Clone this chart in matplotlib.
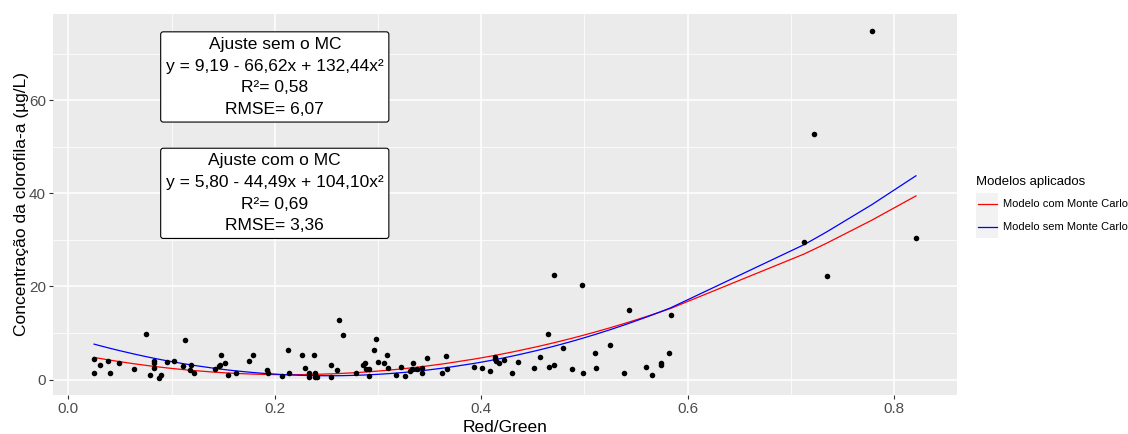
import numpy as np
import matplotlib
matplotlib.use("Agg")
import matplotlib.pyplot as plt
from matplotlib.lines import Line2D
from matplotlib.patches import Rectangle

plt.rcParams['font.family'] = ['Liberation Sans', 'DejaVu Sans']

# observed points (Red/Green ratio, chlorophyll-a)
red_green = [0.025, 0.025, 0.031, 0.038, 0.040, 0.049, 0.064, 0.075, 0.079, 0.083,
             0.083, 0.083, 0.0875, 0.090, 0.096, 0.102, 0.111, 0.113, 0.118, 0.119,
             0.122, 0.142, 0.146, 0.147, 0.148, 0.152, 0.155, 0.162, 0.175, 0.179,
             0.192, 0.193, 0.207, 0.2125, 0.2135, 0.226, 0.229, 0.233, 0.233, 0.238,
             0.239, 0.239, 0.241, 0.2545, 0.2545, 0.260, 0.262, 0.266, 0.279, 0.2855,
             0.287, 0.288, 0.291, 0.2917, 0.296, 0.298, 0.300, 0.3055, 0.3085, 0.310,
             0.317, 0.322, 0.3266, 0.331, 0.333, 0.334, 0.3375, 0.3427, 0.343, 0.347,
             0.3624, 0.366, 0.3666, 0.393, 0.401, 0.408, 0.4135, 0.4135, 0.414, 0.417,
             0.422, 0.430, 0.4354, 0.451, 0.4567, 0.4645, 0.4654, 0.470, 0.4706, 0.479,
             0.488, 0.498, 0.4987, 0.510, 0.5107, 0.5245, 0.538, 0.543, 0.5594, 0.5656,
             0.5743, 0.5743, 0.5817, 0.5836, 0.7125, 0.722, 0.735, 0.778, 0.821]
clorofila = [4.5, 1.5, 3.1, 3.9, 1.5, 3.5, 2.2, 9.7, 1.0, 4.0,
             3.5, 2.4, 0.4, 1.0, 3.7, 4.0, 3.0, 8.5, 2.0, 3.2,
             1.4, 2.2, 3.0, 3.2, 5.2, 3.5, 1.0, 1.4, 4.0, 5.2,
             2.0, 1.5, 0.8, 6.4, 1.5, 5.2, 2.4, 1.4, 0.5, 5.2,
             1.5, 0.5, 0.5, 3.1, 0.5, 2.0, 12.7, 9.5, 1.3, 3.1,
             3.5, 2.2, 2.2, 0.75, 6.4, 8.8, 3.7, 3.5, 5.2, 2.5,
             1.0, 2.8, 0.8, 1.8, 2.2, 3.5, 2.2, 2.4, 1.5, 4.6,
             1.4, 5.0, 2.2, 2.7, 2.5, 1.8, 4.8, 4.4, 4.0, 3.5,
             4.1, 1.3, 3.7, 2.4, 4.8, 9.7, 2.7, 22.5, 3.1, 6.75,
             2.2, 20.3, 1.5, 5.8, 2.4, 7.5, 1.5, 15.0, 2.7, 1.0,
             3.5, 3.1, 5.8, 13.8, 29.6, 52.8, 22.3, 74.8, 30.5]

# fitted quadratic models shown in the boxes (c0, c1, c2)
coef_sem_mc = [9.19, -66.62, 132.44]
coef_com_mc = [5.80, -44.49, 104.10]

label_sem = "Ajuste sem o MC\ny = 9,19 - 66,62x + 132,44x²\nR²= 0,58\nRMSE= 6,07"
label_com = "Ajuste com o MC\ny = 5,80 - 44,49x + 104,10x²\nR²= 0,69\nRMSE= 3,36"

x = np.array(red_green)
y = np.array(clorofila)
xs = np.sort(np.unique(x))
fit_sem = coef_sem_mc[0] + coef_sem_mc[1] * xs + coef_sem_mc[2] * xs ** 2
fit_com = coef_com_mc[0] + coef_com_mc[1] * xs + coef_com_mc[2] * xs ** 2

fig = plt.figure(figsize=(11.28, 4.34), dpi=100)
ax = fig.add_axes([53 / 1128, 1 - 395 / 434, (957 - 53) / 1128, (395 - 14) / 434])
ax.set_facecolor('#EBEBEB')
for s in ax.spines.values():
    s.set_visible(False)

xr = x.max() - x.min()
yr = y.max() - y.min()
ax.set_xlim(x.min() - 0.05 * xr, x.max() + 0.05 * xr)
ax.set_ylim(y.min() - 0.05 * yr, y.max() + 0.05 * yr)

ax.set_xticks([0.0, 0.2, 0.4, 0.6, 0.8])
ax.set_xticklabels(['0.0', '0.2', '0.4', '0.6', '0.8'])
ax.set_yticks([0, 20, 40, 60])
ax.set_xticks([0.1, 0.3, 0.5, 0.7], minor=True)
ax.set_yticks([10, 30, 50, 70], minor=True)
ax.grid(which='major', color='white', linewidth=1.1)
ax.grid(which='minor', color='white', linewidth=0.55)
ax.set_axisbelow(True)
ax.tick_params(which='major', length=3, width=0.8, color='#333333',
               labelsize=11, labelcolor='#4D4D4D', pad=2)
ax.tick_params(which='minor', length=0)

ax.plot(xs, fit_com, color='red', linewidth=0.9)
ax.plot(xs, fit_sem, color='blue', linewidth=0.9)
ax.scatter(x, y, s=16, color='black', zorder=3, linewidths=0)

box = dict(boxstyle='round,pad=0.3,rounding_size=0.15', facecolor='white',
           edgecolor='black', linewidth=0.8)
ax.text(0.2, 65, label_sem, ha='center', va='center', fontsize=12.5,
        linespacing=1.55, bbox=box, zorder=4)
ax.text(0.2, 40, label_com, ha='center', va='center', fontsize=12.5,
        linespacing=1.55, bbox=box, zorder=4)

ax.set_xlabel('Red/Green', fontsize=12.5, labelpad=3)
ax.set_ylabel('Concentração da clorofila-a (µg/L)', fontsize=12.5, labelpad=0)

# legend
fig.text(976 / 1128, 1 - 182 / 434, 'Modelos aplicados', fontsize=9.5,
         ha='left', va='center')
fig.add_artist(Rectangle((976 / 1128, 1 - 238 / 434), 22 / 1128, 45 / 434,
                         transform=fig.transFigure, facecolor='#F2F2F2',
                         edgecolor='none'))
for yy, col, lab in [(204, 'red', 'Modelo com Monte Carlo'),
                     (227, 'blue', 'Modelo sem Monte Carlo')]:
    fig.add_artist(Line2D([978 / 1128, 997 / 1128], [1 - yy / 434, 1 - yy / 434],
                          transform=fig.transFigure, color=col, linewidth=0.9))
    fig.text(1003 / 1128, 1 - yy / 434, lab, fontsize=8, ha='left', va='center')

fig.savefig('out.png', dpi=100)
